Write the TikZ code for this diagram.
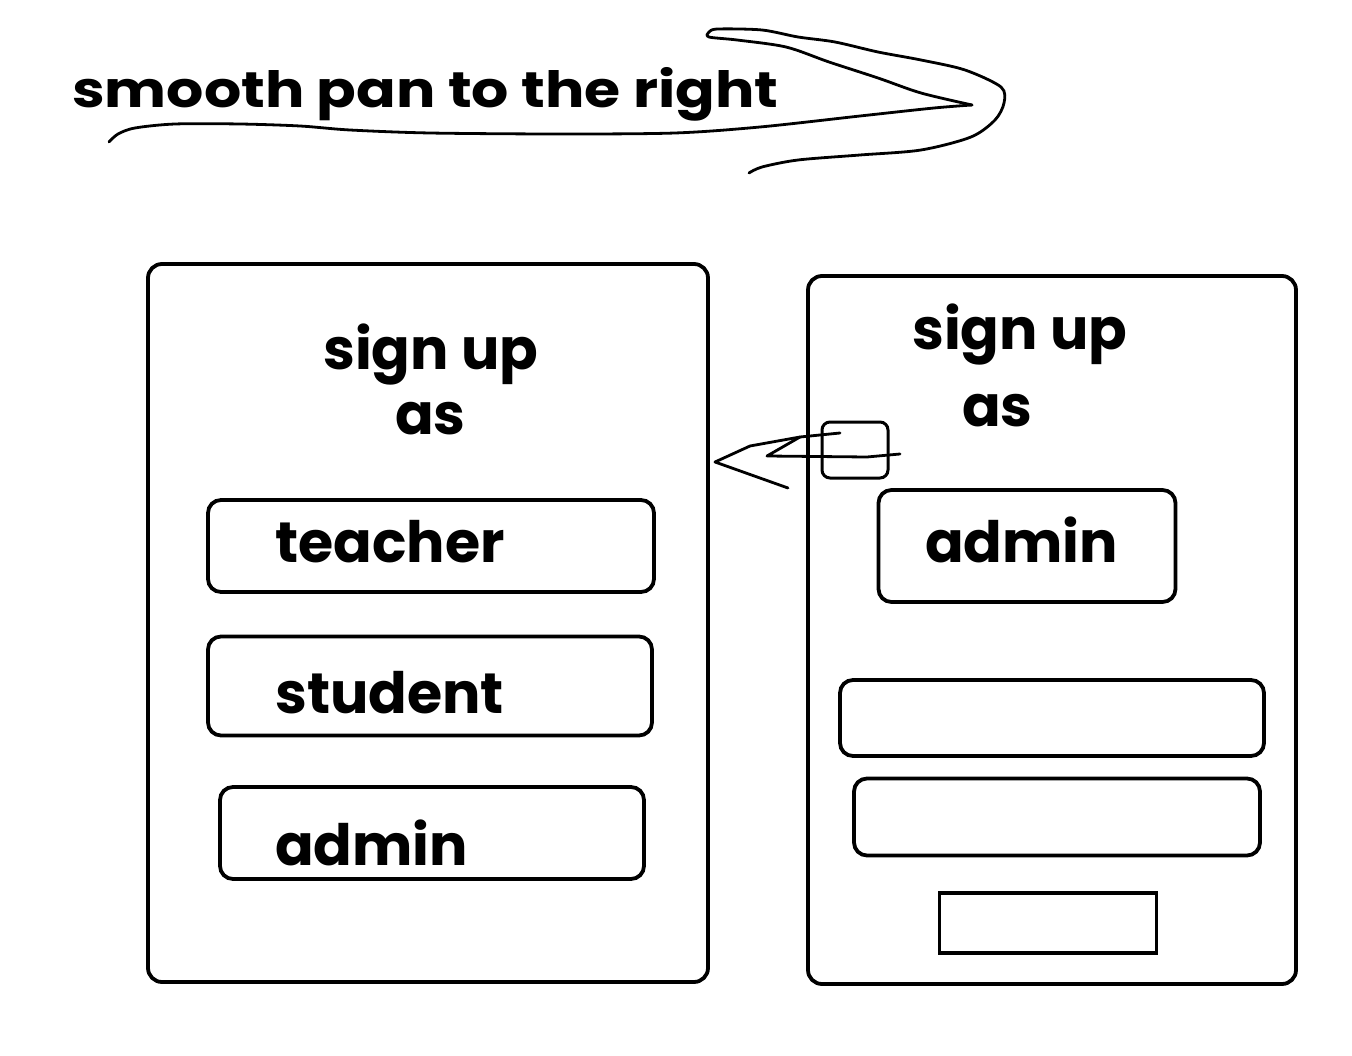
\documentclass[tikz,border=0pt]{standalone}
\usepackage{fontspec}
\setmainfont{Poppins}[UprightFont=* Bold]
\usetikzlibrary{calc}

\tikzset{
  panel/.style={draw, line width=3.8pt, rounded corners=14pt, inner sep=0pt},
  optbox/.style={draw, line width=3.8pt, rounded corners=13pt, inner sep=0pt},
  label/.style={anchor=base west, inner sep=0pt, font=\fontsize{57}{60}\selectfont},
  scribble/.style={line width=2.8pt, line join=round, line cap=round},
}

\begin{document}
\begin{tikzpicture}[x=1pt, y=-1pt]
        \useasboundingbox (0,0) rectangle (1352,1056);
        % title
        \node[label, font=\fontsize{50}{52}\selectfont] (title) at (72,108) {\scalebox{1.17}[1]{smooth pan to the right}};
        % panels
        \node[panel, minimum width=560pt, minimum height=718pt] (left) at (428,623) {};
        \node[panel, minimum width=488pt, minimum height=708pt] (right) at (1052,630) {};
        % left panel
        \node[label] (signl) at (323,370) {sign up};
        \node[label] (asl) at (395,435) {as};
        \node[optbox, minimum width=446pt, minimum height=92pt] (teacherbox) at (431,546) {};
        \node[optbox, minimum width=444pt, minimum height=99pt] (studentbox) at (430,686) {};
        \node[optbox, minimum width=424pt, minimum height=92pt] (adminlbox) at (432,833) {};
        \node[label] (teacher) at (275,562) {teacher};
        \node[label] (student) at (275,713) {student};
        \node[label] (adminl) at (275,865) {admin};
        % right panel
        \node[label] (signr) at (912,350) {sign up};
        \node[label] (asr) at (962,427) {as};
        \node[optbox, minimum width=297pt, minimum height=112pt] (adminrbox) at (1027,546) {};
        \node[label] (adminr) at (925,562) {admin};
        \node[optbox, minimum width=424pt, minimum height=76pt] (field1) at (1052,718) {};
        \node[optbox, minimum width=406pt, minimum height=77pt] (field2) at (1057,817) {};
        \node[draw, line width=3.8pt, inner sep=0pt, minimum width=217pt, minimum height=60pt] (submit) at (1048,923) {};
        % back button
        \node[draw, line width=3pt, rounded corners=8pt, inner sep=0pt, minimum width=66pt, minimum height=56pt] (back) at (855,450) {};
        \coordinate (tip) at (715,462);
        \draw[scribble] (840,433) -- (800,437) -- (750,446) -- (tip) -- (788,488);
        \draw[scribble] (800,437) -- (767,456) -- (867,457) -- (900,454);
        % pan arrow
        \coordinate (pantip) at (972,105);
        \draw[scribble] plot[smooth, tension=0.5] coordinates {(109,142) (118,134) (135,128) (175,124) (240,124) (300,126) (350,130) (430,133) (560,134) (675,133) (760,127) (860,116) (934,108) (pantip)};
        \draw[scribble] plot[smooth, tension=0.5] coordinates {(pantip) (921,93) (878,78) (829,62) (786,47) (737,40) (709,37) (709,32) (718,29) (762,30) (798,37) (835,42) (878,52) (921,60) (965,70) (1001,87) (1004,103) (995,120) (971,137) (921,150) (860,155) (798,160) (762,167) (749,173)};
\end{tikzpicture}
\end{document}
